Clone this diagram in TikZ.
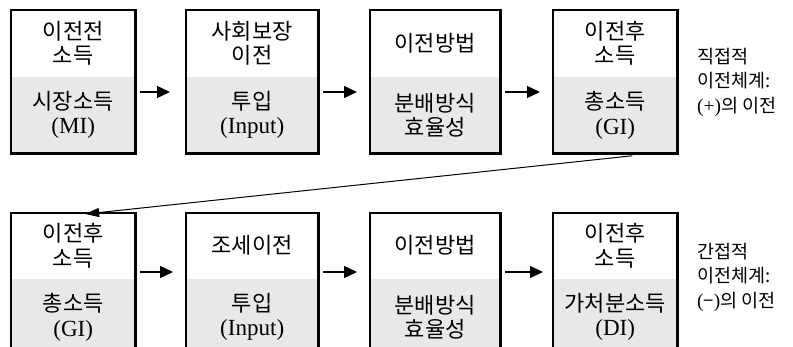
\documentclass[tikz,border=0pt]{standalone}
\usepackage{fontspec}
\setmainfont{Liberation Serif}[Scale=1.05]
\newfontfamily\kr{Noto Sans CJK KR}
\usetikzlibrary{arrows.meta}
\tikzset{
  upper/.style={anchor=north west, inner sep=0pt, align=center,
    font=\fontsize{22}{24.5}\selectfont},
  lower/.style={upper, fill=boxgray},
  frame/.style={line width=2.6pt},
  arr/.style={line width=1.3pt, -{Triangle[length=13pt,width=12pt]}},
  diag/.style={line width=1pt, -{Triangle[length=14pt,width=9pt]}},
  side/.style={anchor=west, align=left, inner sep=0pt,
    font=\fontsize{18.5}{24.5}\selectfont},
}
\definecolor{boxgray}{RGB}{232,232,232}
\begin{document}
\begin{tikzpicture}[x=1pt,y=-1pt]
\useasboundingbox (0,0) rectangle (793,347);
\clip (0,0) rectangle (793,347);
% ---------- top row ----------
\node[upper, minimum width=124pt, minimum height=66pt] (a1t) at (11,10) {\kr 이전전\\\kr 소득};
\node[lower, minimum width=124pt, minimum height=77pt] (a1b) at (a1t.south west) {\kr 시장소득\\(MI)};
\draw[frame] (a1t.north west) rectangle (a1b.south east);

\node[upper, minimum width=132pt, minimum height=66pt] (a2t) at (186,10) {\kr 사회보장\\\kr 이전};
\node[lower, minimum width=132pt, minimum height=77pt] (a2b) at (a2t.south west) {\kr 투입\\(Input)};
\draw[frame] (a2t.north west) rectangle (a2b.south east);

\node[upper, minimum width=130pt, minimum height=66pt] (a3t) at (370,10) {\kr 이전방법};
\node[lower, minimum width=130pt, minimum height=77pt] (a3b) at (a3t.south west) {\kr 분배방식\\\kr 효율성};
\draw[frame] (a3t.north west) rectangle (a3b.south east);

\node[upper, minimum width=124pt, minimum height=66pt] (a4t) at (553,10) {\kr 이전후\\\kr 소득};
\node[lower, minimum width=124pt, minimum height=77pt] (a4b) at (a4t.south west) {\kr 총소득\\(GI)};
\draw[frame] (a4t.north west) rectangle (a4b.south east);

\node[side] (s1) at (697,82) {\kr 직접적\\\kr 이전체계:\\(+){\kr 의 이전}};

\coordinate (ay) at (0,92);
\draw[arr] ([xshift=5pt]a1b.east |- ay) -- ([xshift=-16pt]a2b.west |- ay);
\draw[arr] ([xshift=5pt]a2b.east |- ay) -- ([xshift=-13pt]a3b.west |- ay);
\draw[arr] ([xshift=5pt]a3b.east |- ay) -- ([xshift=-13pt]a4b.west |- ay);

% ---------- bottom row ----------
\node[upper, minimum width=124pt, minimum height=65pt] (b1t) at (11,213) {\kr 이전후\\\kr 소득};
\node[lower, minimum width=124pt, minimum height=77pt] (b1b) at (b1t.south west) {\kr 총소득\\(GI)};
\draw[frame] (b1t.north west) rectangle (b1b.south east);

\node[upper, minimum width=132pt, minimum height=65pt] (b2t) at (186,213) {\kr 조세이전};
\node[lower, minimum width=132pt, minimum height=77pt] (b2b) at (b2t.south west) {\kr 투입\\(Input)};
\draw[frame] (b2t.north west) rectangle (b2b.south east);

\node[upper, minimum width=130pt, minimum height=65pt] (b3t) at (370,213) {\kr 이전방법};
\node[lower, minimum width=130pt, minimum height=77pt] (b3b) at (b3t.south west) {\kr 분배방식\\\kr 효율성};
\draw[frame] (b3t.north west) rectangle (b3b.south east);

\node[upper, minimum width=124pt, minimum height=65pt] (b4t) at (553,213) {\kr 이전후\\\kr 소득};
\node[lower, minimum width=124pt, minimum height=77pt] (b4b) at (b4t.south west) {\kr 가처분소득\\(DI)};
\draw[frame] (b4t.north west) rectangle (b4b.south east);

\node[side] (s2) at (697,277) {\kr 간접적\\\kr 이전체계:\\({\kr −}){\kr 의 이전}};

\coordinate (by) at (0,272);
\draw[arr] ([xshift=5pt]b1b.east |- by) -- ([xshift=-13pt]b2b.west |- by);
\draw[arr] ([xshift=5pt]b2b.east |- by) -- ([xshift=-13pt]b3b.west |- by);
\draw[arr] ([xshift=5pt]b3b.east |- by) -- ([xshift=-10pt]b4b.west |- by);

% ---------- diagonal connector ----------
\draw[diag] ([xshift=17pt,yshift=-2pt]a4b.south) -- ([xshift=12pt,yshift=-1pt]b1t.north);
\end{tikzpicture}
\end{document}
